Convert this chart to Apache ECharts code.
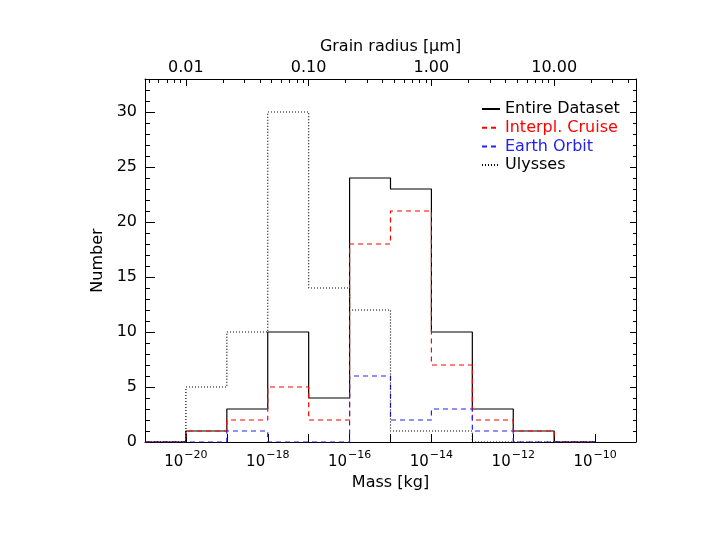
<!DOCTYPE html>
<html>
<head>
<meta charset="utf-8">
<script src="https://cdn.jsdelivr.net/npm/echarts@6/dist/echarts.min.js"></script>
<style>
  html, body { margin: 0; background: #fff; }
  #chart { width: 714px; height: 552px; }
</style>
</head>
<body>
<div id="chart"></div>
<script>
// bin edges in kg (one bin per decade)
const massEdges = [1e-21, 1e-20, 1e-19, 1e-18, 1e-17, 1e-16, 1e-15, 1e-14, 1e-13, 1e-12, 1e-11, 1e-10];
const entireDataset = [0, 1, 3, 10, 4, 24, 23, 10, 3, 1, 0];
const interplCruise = [0, 1, 2, 5, 2, 18, 21, 7, 2, 1, 0];
const earthOrbit = [0, 0, 1, 0, 0, 6, 2, 3, 1, 0, 0];
const ulysses = [0, 5, 10, 30, 14, 12, 1, 1, 0, 0, 0];

const massMin = 1e-21;
const massMax = 1e-9;
const massTicks = [1e-20, 1e-19, 1e-18, 1e-17, 1e-16, 1e-15, 1e-14, 1e-13, 1e-12, 1e-11, 1e-10];
const massLabels = [1e-20, 1e-18, 1e-16, 1e-14, 1e-12, 1e-10];

// grain radius [um]: mass = 1e-14 kg * r^3
const radiusTicks = [0.01, 0.1, 1, 10];
const radiusMinorTicks = [
  0.005, 0.006, 0.007, 0.008, 0.009,
  0.02, 0.03, 0.04, 0.05, 0.06, 0.07, 0.08, 0.09,
  0.2, 0.3, 0.4, 0.5, 0.6, 0.7, 0.8, 0.9,
  2, 3, 4, 5, 6, 7, 8, 9,
  20, 30, 40
];

const yMajorTicks = [0, 5, 10, 15, 20, 25, 30];
const yMinorTicks = [1, 2, 3, 4, 6, 7, 8, 9, 11, 12, 13, 14, 16, 17, 18, 19,
  21, 22, 23, 24, 26, 27, 28, 29, 31, 32];

const FONT = 'DejaVu Sans';
const RED = '#ff0000';
const BLUE = '#2222ee';

function stepData(counts) {
  const pts = counts.map((c, i) => [massEdges[i], c]);
  pts.push([massEdges[counts.length], counts[counts.length - 1]]);
  return pts;
}

function histSeries(name, counts, color, type) {
  return {
    name: name,
    type: 'line',
    step: 'end',
    symbol: 'none',
    xAxisIndex: 0,
    yAxisIndex: 0,
    lineStyle: { color: color, width: 1.2, type: type },
    itemStyle: { color: color },
    data: stepData(counts),
  };
}

const rMin = Math.cbrt(massMin / 1e-14);
const rMax = Math.cbrt(massMax / 1e-14);

const axisLine = { show: true, onZero: false, lineStyle: { color: '#000', width: 1 } };
const noLine = { show: false, onZero: false };

const chart = echarts.init(document.getElementById('chart'));
chart.setOption({
  animation: false,
  backgroundColor: '#fff',
  textStyle: { fontFamily: FONT },
  grid: { left: 145, right: 78, top: 79, bottom: 110, containLabel: false },
  legend: {
    orient: 'vertical',
    left: 476,
    top: 96,
    itemWidth: 18,
    itemHeight: 10,
    itemGap: 2.7,
    itemStyle: { opacity: 0 },
    textStyle: { fontFamily: FONT, fontSize: 16 },
    data: [
      { name: 'Entire Dataset', textStyle: { color: '#000' } },
      { name: 'Interpl. Cruise', textStyle: { color: RED } },
      { name: 'Earth Orbit', textStyle: { color: BLUE } },
      { name: 'Ulysses', textStyle: { color: '#000' } },
    ],
  },
  xAxis: [
    {
      type: 'log',
      logBase: 10,
      min: massMin,
      max: massMax,
      position: 'bottom',
      name: 'Mass [kg]',
      nameLocation: 'middle',
      nameGap: 30,
      nameTextStyle: { fontFamily: FONT, fontSize: 16, color: '#000' },
      axisLine: axisLine,
      axisTick: { show: true, inside: true, length: 8, customValues: massTicks, lineStyle: { color: '#000' } },
      axisLabel: {
        customValues: massLabels,
        margin: 8,
        formatter: function (v) {
          const e = Math.round(Math.log10(v));
          return '{b|10}{s|' + (e < 0 ? '\u2212' : '') + Math.abs(e) + '}';
        },
        rich: {
          b: { fontFamily: FONT, fontSize: 15, color: '#000', lineHeight: 20, verticalAlign: 'bottom' },
          s: { fontFamily: FONT, fontSize: 11, color: '#000', lineHeight: 20, verticalAlign: 'top', padding: [0, 0, 0, 1] },
        },
      },
      splitLine: { show: false },
    },
    {
      type: 'log',
      logBase: 10,
      min: rMin,
      max: rMax,
      position: 'top',
      name: 'Grain radius [\u03bcm]',
      nameLocation: 'middle',
      nameGap: 20,
      nameTextStyle: { fontFamily: FONT, fontSize: 16, color: '#000' },
      axisLine: axisLine,
      axisTick: { show: true, inside: true, length: 7, customValues: radiusTicks, lineStyle: { color: '#000' } },
      axisLabel: {
        customValues: radiusTicks,
        margin: 3,
        fontFamily: FONT,
        fontSize: 16,
        color: '#000',
        formatter: function (v) { return v.toFixed(2); },
      },
      splitLine: { show: false },
    },
    {
      type: 'log',
      logBase: 10,
      min: rMin,
      max: rMax,
      position: 'top',
      axisLine: noLine,
      axisTick: { show: true, inside: true, length: 4, customValues: radiusMinorTicks, lineStyle: { color: '#000' } },
      axisLabel: { show: false },
      splitLine: { show: false },
    },
  ],
  yAxis: [
    {
      type: 'value',
      min: 0,
      max: 33,
      position: 'left',
      name: 'Number',
      nameLocation: 'middle',
      nameGap: 35,
      nameTextStyle: { fontFamily: FONT, fontSize: 16, color: '#000' },
      axisLine: axisLine,
      axisTick: { show: true, inside: true, length: 10, customValues: yMajorTicks, lineStyle: { color: '#000' } },
      axisLabel: { customValues: yMajorTicks, margin: 8, fontFamily: FONT, fontSize: 16, color: '#000' },
      splitLine: { show: false },
    },
    {
      type: 'value',
      min: 0,
      max: 33,
      position: 'left',
      axisLine: noLine,
      axisTick: { show: true, inside: true, length: 5, customValues: yMinorTicks, lineStyle: { color: '#000' } },
      axisLabel: { show: false },
      splitLine: { show: false },
    },
    {
      type: 'value',
      min: 0,
      max: 33,
      position: 'right',
      axisLine: axisLine,
      axisTick: { show: true, inside: true, length: 6, customValues: yMajorTicks, lineStyle: { color: '#000' } },
      axisLabel: { show: false },
      splitLine: { show: false },
    },
    {
      type: 'value',
      min: 0,
      max: 33,
      position: 'right',
      axisLine: noLine,
      axisTick: { show: true, inside: true, length: 3, customValues: yMinorTicks, lineStyle: { color: '#000' } },
      axisLabel: { show: false },
      splitLine: { show: false },
    },
  ],
  series: [
    histSeries('Entire Dataset', entireDataset, '#000', 'solid'),
    histSeries('Interpl. Cruise', interplCruise, RED, [5, 4]),
    histSeries('Earth Orbit', earthOrbit, BLUE, [5, 4]),
    histSeries('Ulysses', ulysses, '#000', [1, 2]),
  ],
});
</script>
</body>
</html>
